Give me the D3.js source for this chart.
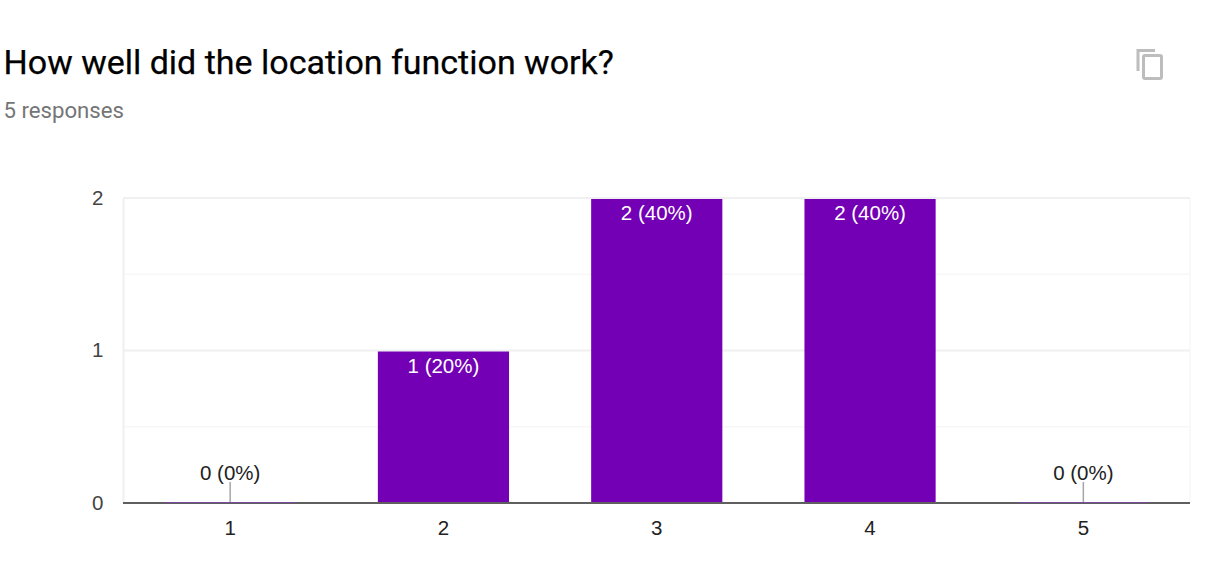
<!DOCTYPE html>
<html>
<head>
<meta charset="utf-8">
<script src="https://cdn.jsdelivr.net/npm/d3@7"></script>
<style>
html,body{margin:0;padding:0;background:#fff;}
svg{display:block;}
</style>
</head>
<body>
<svg id="mainsvg" width="1220" height="579"></svg>
<script>
// values
var categories = ["1","2","3","4","5"];
var counts = [0,1,2,2,0];
var pctLabels = ["0 (0%)","1 (20%)","2 (40%)","2 (40%)","0 (0%)"];
var yTicks = [0,1,2];
var yMinor = [0.5,1.5];

var svg = d3.select("#mainsvg");

var x = d3.scaleBand().domain(categories).range([123.5,1190]).paddingInner(0.385).paddingOuter(0.1925);
var y = d3.scaleLinear().domain([0,2]).range([503,198]);

// header
svg.append("text")
    .attr("x",3.5).attr("y",74)
    .style("font-family","Roboto").style("font-size","34px").style("fill","#000")
    .style("stroke","#000").style("stroke-width","0.25px")
    .text("How well did the location function work?");
svg.append("text")
    .attr("x",3.5).attr("y",118)
    .style("font-family","Roboto").style("font-size","22.2px").style("fill","#757575")
    .text("5 responses");

// copy icon
var icon = svg.append("g").attr("fill","none").attr("stroke","#bdbdbd").attr("stroke-width",3);
icon.append("path").attr("d","M1138 71V50.5H1155");
icon.append("rect").attr("x",1143.5).attr("y",55.5).attr("width",18).attr("height",23).attr("rx",1.5);

// grid
var grid = svg.append("g");
grid.selectAll("line.minor").data(yMinor).enter().append("line")
    .attr("class","minor")
    .attr("x1",123.5).attr("x2",1190)
    .attr("y1",function(d){return y(d);}).attr("y2",function(d){return y(d);})
    .attr("stroke","#f7f7f7").attr("stroke-width",1.5);
grid.selectAll("line.major").data(yTicks.slice(1)).enter().append("line")
    .attr("class","major")
    .attr("x1",123.5).attr("x2",1190)
    .attr("y1",function(d){return y(d);}).attr("y2",function(d){return y(d);})
    .attr("stroke","#f0f0f0").attr("stroke-width",2);
grid.append("line").attr("x1",123.5).attr("x2",123.5).attr("y1",198).attr("y2",503)
    .attr("stroke","#f0f0f0").attr("stroke-width",2);
grid.append("line").attr("x1",1190).attr("x2",1190).attr("y1",198).attr("y2",503)
    .attr("stroke","#f3f3f3").attr("stroke-width",1);

// bars, they start just under their grid line
svg.selectAll("rect.bar").data(counts).enter().append("rect")
    .attr("class","bar")
    .attr("x",function(d,i){return x(categories[i]);})
    .attr("width",x.bandwidth())
    .attr("y",function(d){return y(d)+1;})
    .attr("height",function(d){return Math.max(0,y(0)-y(d)-1);})
    .attr("fill","#7300b5");

// baseline, zero bars show as a thin purple line on it
svg.append("line").attr("x1",123).attr("x2",1190).attr("y1",503).attr("y2",503)
    .attr("stroke","#5f5f5f").attr("stroke-width",2);
categories.forEach(function(c,i){
    if(counts[i]!==0) return;
    svg.append("line")
        .attr("x1",x(c)).attr("x2",x(c)+x.bandwidth())
        .attr("y1",y(0)-0.5).attr("y2",y(0)-0.5)
        .attr("stroke","#7a4a9c").attr("stroke-width",1);
    svg.append("line")
        .attr("x1",x(c)+x.bandwidth()/2).attr("x2",x(c)+x.bandwidth()/2)
        .attr("y1",482).attr("y2",y(0)-1)
        .attr("stroke","#a6a6a6").attr("stroke-width",1.5);
});

var font = "'Liberation Sans'";

// value labels
svg.selectAll("text.val").data(counts).enter().append("text")
    .attr("class","val")
    .attr("text-anchor","middle")
    .attr("x",function(d,i){return x(categories[i])+x.bandwidth()/2;})
    .attr("y",function(d){return d===0 ? y(0)-23 : y(d)+22;})
    .style("font-family",font).style("font-size","20.5px")
    .style("fill",function(d){return d===0 ? "#222" : "#fff";})
    .text(function(d,i){return pctLabels[i];});

// axis labels
svg.selectAll("text.ytick").data(yTicks).enter().append("text")
    .attr("class","ytick")
    .attr("text-anchor","end")
    .attr("x",103.5)
    .attr("y",function(d){return y(d)+6.5;})
    .style("font-family",font).style("font-size","20.5px").style("fill","#444")
    .text(function(d){return d;});
svg.selectAll("text.xtick").data(categories).enter().append("text")
    .attr("class","xtick")
    .attr("text-anchor","middle")
    .attr("x",function(d){return x(d)+x.bandwidth()/2;})
    .attr("y",534.5)
    .style("font-family",font).style("font-size","20.5px").style("fill","#222")
    .text(function(d){return d;});
</script>
</body>
</html>
